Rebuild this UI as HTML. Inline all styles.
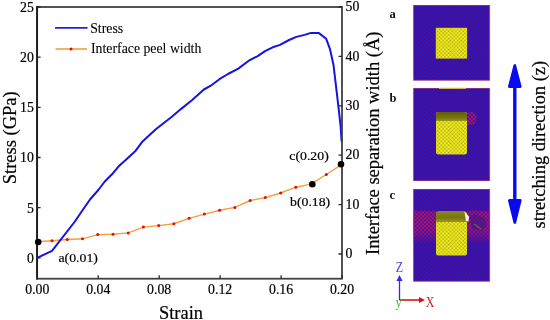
<!DOCTYPE html>
<html><head><meta charset="utf-8"><style>
html,body{margin:0;padding:0;background:#fff;width:550px;height:320px;overflow:hidden;font-family:"Liberation Serif",serif;}
svg{display:block;will-change:transform;}
</style></head><body>
<svg width="550" height="320" viewBox="0 0 550 320">
<defs>
<pattern id="md" width="3.90" height="3.90" patternUnits="userSpaceOnUse">
<rect width="3.90" height="3.90" fill="#0e0258"/><circle cx="0.00" cy="0.00" r="0.8" fill="#d0103c"/><circle cx="3.90" cy="0.00" r="0.8" fill="#d0103c"/><circle cx="0.00" cy="3.90" r="0.8" fill="#d0103c"/><circle cx="3.90" cy="3.90" r="0.8" fill="#d0103c"/><circle cx="1.95" cy="1.95" r="0.8" fill="#d0103c"/><circle cx="1.95" cy="0.00" r="1.1" fill="#1a1af8"/><circle cx="0.00" cy="1.95" r="1.1" fill="#1a1af8"/><circle cx="3.90" cy="1.95" r="1.1" fill="#1a1af8"/><circle cx="1.95" cy="3.90" r="1.1" fill="#1a1af8"/>
</pattern>
<pattern id="yl" width="2.6" height="2.6" patternUnits="userSpaceOnUse" patternTransform="rotate(45)">
<rect width="2.6" height="2.6" fill="#f2f020"/>
<circle cx="1.3" cy="1.3" r="0.85" fill="#a8a010"/>
</pattern>
<pattern id="mdr" width="3.90" height="3.90" patternUnits="userSpaceOnUse">
<rect width="3.90" height="3.90" fill="#2a0458"/><circle cx="0.00" cy="0.00" r="1.35" fill="#e81030"/><circle cx="3.90" cy="0.00" r="1.35" fill="#e81030"/><circle cx="0.00" cy="3.90" r="1.35" fill="#e81030"/><circle cx="3.90" cy="3.90" r="1.35" fill="#e81030"/><circle cx="1.95" cy="1.95" r="1.35" fill="#e81030"/><circle cx="1.95" cy="0.00" r="0.95" fill="#1a1af0"/><circle cx="0.00" cy="1.95" r="0.95" fill="#1a1af0"/><circle cx="3.90" cy="1.95" r="0.95" fill="#1a1af0"/><circle cx="1.95" cy="3.90" r="0.95" fill="#1a1af0"/>
</pattern>
<linearGradient id="cap" x1="0" y1="0" x2="0" y2="1">
<stop offset="0" stop-color="#5e5c08"/><stop offset="0.7" stop-color="#7a7810"/><stop offset="1" stop-color="#9a9818"/>
</linearGradient>
<linearGradient id="bandg" x1="0" y1="210" x2="0" y2="244" gradientUnits="userSpaceOnUse">
<stop offset="0" stop-color="#fff" stop-opacity="0.2"/><stop offset="0.08" stop-color="#fff" stop-opacity="0.85"/><stop offset="0.6" stop-color="#fff" stop-opacity="0.8"/><stop offset="1" stop-color="#fff" stop-opacity="0"/>
</linearGradient>
<mask id="bandmask" maskUnits="userSpaceOnUse" x="400" y="200" width="100" height="60"><rect x="400" y="200" width="100" height="60" fill="url(#bandg)"/></mask>
<linearGradient id="capc" x1="0" y1="0" x2="0" y2="1">
<stop offset="0" stop-color="#8a8818"/><stop offset="0.6" stop-color="#78760e"/><stop offset="1" stop-color="#9a9820"/>
</linearGradient>
</defs>
<rect width="550" height="320" fill="#fff"/>
<text transform="translate(33.90,262.70) scale(1,1.030)" font-family="Liberation Serif, serif" font-size="13.8" text-anchor="end" fill="#000" stroke="#000" stroke-width="0.2">0</text>
<text transform="translate(37.30,293.50) scale(1,1.030)" font-family="Liberation Serif, serif" font-size="13.8" text-anchor="middle" fill="#000" stroke="#000" stroke-width="0.2">0.00</text>
<text transform="translate(345.60,258.10) scale(1,1.030)" font-family="Liberation Serif, serif" font-size="13.8" fill="#000" stroke="#000" stroke-width="0.2">0</text>
<text transform="translate(33.90,212.54) scale(1,1.030)" font-family="Liberation Serif, serif" font-size="13.8" text-anchor="end" fill="#000" stroke="#000" stroke-width="0.2">5</text>
<text transform="translate(98.24,293.50) scale(1,1.030)" font-family="Liberation Serif, serif" font-size="13.8" text-anchor="middle" fill="#000" stroke="#000" stroke-width="0.2">0.04</text>
<text transform="translate(345.60,208.70) scale(1,1.030)" font-family="Liberation Serif, serif" font-size="13.8" fill="#000" stroke="#000" stroke-width="0.2">10</text>
<text transform="translate(33.90,162.38) scale(1,1.030)" font-family="Liberation Serif, serif" font-size="13.8" text-anchor="end" fill="#000" stroke="#000" stroke-width="0.2">10</text>
<text transform="translate(159.18,293.50) scale(1,1.030)" font-family="Liberation Serif, serif" font-size="13.8" text-anchor="middle" fill="#000" stroke="#000" stroke-width="0.2">0.08</text>
<text transform="translate(345.60,159.30) scale(1,1.030)" font-family="Liberation Serif, serif" font-size="13.8" fill="#000" stroke="#000" stroke-width="0.2">20</text>
<text transform="translate(33.90,112.22) scale(1,1.030)" font-family="Liberation Serif, serif" font-size="13.8" text-anchor="end" fill="#000" stroke="#000" stroke-width="0.2">15</text>
<text transform="translate(220.12,293.50) scale(1,1.030)" font-family="Liberation Serif, serif" font-size="13.8" text-anchor="middle" fill="#000" stroke="#000" stroke-width="0.2">0.12</text>
<text transform="translate(345.60,109.90) scale(1,1.030)" font-family="Liberation Serif, serif" font-size="13.8" fill="#000" stroke="#000" stroke-width="0.2">30</text>
<text transform="translate(33.90,62.06) scale(1,1.030)" font-family="Liberation Serif, serif" font-size="13.8" text-anchor="end" fill="#000" stroke="#000" stroke-width="0.2">20</text>
<text transform="translate(281.06,293.50) scale(1,1.030)" font-family="Liberation Serif, serif" font-size="13.8" text-anchor="middle" fill="#000" stroke="#000" stroke-width="0.2">0.16</text>
<text transform="translate(345.60,60.50) scale(1,1.030)" font-family="Liberation Serif, serif" font-size="13.8" fill="#000" stroke="#000" stroke-width="0.2">40</text>
<text transform="translate(33.90,11.90) scale(1,1.030)" font-family="Liberation Serif, serif" font-size="13.8" text-anchor="end" fill="#000" stroke="#000" stroke-width="0.2">25</text>
<text transform="translate(342.00,293.50) scale(1,1.030)" font-family="Liberation Serif, serif" font-size="13.8" text-anchor="middle" fill="#000" stroke="#000" stroke-width="0.2">0.20</text>
<text transform="translate(345.60,11.10) scale(1,1.030)" font-family="Liberation Serif, serif" font-size="13.8" fill="#000" stroke="#000" stroke-width="0.2">50</text>
<text x="181" y="318.9" font-family="Liberation Serif, serif" font-size="18.4" text-anchor="middle" fill="#000" stroke="#000" stroke-width="0.2">Strain</text>
<text transform="translate(16.2,137.8) rotate(-90)" font-family="Liberation Serif, serif" font-size="18.5" text-anchor="middle" fill="#000" stroke="#000" stroke-width="0.2">Stress (GPa)</text>
<text transform="translate(379.2,143.2) rotate(-90)" font-family="Liberation Serif, serif" font-size="18.5" text-anchor="middle" fill="#000" stroke="#000" stroke-width="0.2">Interface separation width (&#197;)</text>
<polyline points="37.3,241.8 52.0,240.8 67.3,239.5 82.5,238.8 97.7,234.6 113.0,234.2 128.2,232.9 143.4,227.1 158.7,225.6 173.9,223.7 189.1,218.3 204.4,214.1 219.6,210.3 234.9,207.4 250.1,200.5 265.3,197.6 280.6,193.0 295.8,187.2 311.0,184.2 326.3,174.5 342.0,164.4" fill="none" stroke="#f2a03a" stroke-width="1.4"/>
<circle cx="52.0" cy="240.8" r="1.5" fill="#ea0808"/>
<circle cx="67.3" cy="239.5" r="1.5" fill="#ea0808"/>
<circle cx="82.5" cy="238.8" r="1.5" fill="#ea0808"/>
<circle cx="97.7" cy="234.6" r="1.5" fill="#ea0808"/>
<circle cx="113.0" cy="234.2" r="1.5" fill="#ea0808"/>
<circle cx="128.2" cy="232.9" r="1.5" fill="#ea0808"/>
<circle cx="143.4" cy="227.1" r="1.5" fill="#ea0808"/>
<circle cx="158.7" cy="225.6" r="1.5" fill="#ea0808"/>
<circle cx="173.9" cy="223.7" r="1.5" fill="#ea0808"/>
<circle cx="189.1" cy="218.3" r="1.5" fill="#ea0808"/>
<circle cx="204.4" cy="214.1" r="1.5" fill="#ea0808"/>
<circle cx="219.6" cy="210.3" r="1.5" fill="#ea0808"/>
<circle cx="234.9" cy="207.4" r="1.5" fill="#ea0808"/>
<circle cx="250.1" cy="200.5" r="1.5" fill="#ea0808"/>
<circle cx="265.3" cy="197.6" r="1.5" fill="#ea0808"/>
<circle cx="280.6" cy="193.0" r="1.5" fill="#ea0808"/>
<circle cx="295.8" cy="187.2" r="1.5" fill="#ea0808"/>
<circle cx="326.3" cy="174.5" r="1.5" fill="#ea0808"/>
<polyline points="37.3,257.8 52.0,250.8 74.5,222.0 82.7,210.0 90.0,199.5 98.3,190.0 104.8,181.5 112.0,174.3 119.3,165.7 126.5,159.2 135.7,150.7 142.0,142.1 155.8,129.2 171.2,117.2 181.5,108.6 191.9,100.3 203.9,89.5 210.8,85.7 219.4,79.2 228.0,74.0 238.3,68.6 249.4,60.3 257.3,56.3 265.0,51.2 272.7,47.3 280.0,44.9 289.1,40.0 296.4,36.9 304.5,34.9 311.0,32.9 318.6,32.9 326.2,38.8 330.0,49.1 333.5,65.0 338.6,108.2 340.6,126.0 341.6,141.5" fill="none" stroke="#1414e0" stroke-width="2" stroke-linejoin="round"/>
<rect x="37.1" y="7" width="304.9" height="271.7" fill="none" stroke="#404040" stroke-width="1.8"/>
<path d="M37.1,6.1V279.6" stroke="#1e1e1e" stroke-width="1.9"/>
<path d="M37.1,257.8h3.5M37.3,278.7v-3.5M342,254.0h-3.5M37.1,207.6h3.5M98.2,278.7v-3.5M342,204.6h-3.5M37.1,157.5h3.5M159.2,278.7v-3.5M342,155.2h-3.5M37.1,107.3h3.5M220.1,278.7v-3.5M342,105.8h-3.5M37.1,57.2h3.5M281.1,278.7v-3.5M342,56.4h-3.5M37.1,7.0h3.5M342.0,278.7v-3.5M342,7.0h-3.5" stroke="#2a2a2a" stroke-width="1.3" fill="none"/>
<circle cx="38.2" cy="242.0" r="3.3" fill="#000"/>
<circle cx="312.3" cy="184.2" r="3.3" fill="#000"/>
<circle cx="341.0" cy="164.2" r="3.3" fill="#000"/>
<text transform="translate(58.50,261.90) scale(1,0.960)" font-family="Liberation Serif, serif" font-size="13.8" fill="#000" stroke="#000" stroke-width="0.2">a(0.01)</text>
<text transform="translate(290.00,206.10) scale(1,0.960)" font-family="Liberation Serif, serif" font-size="13.8" fill="#000" stroke="#000" stroke-width="0.2">b(0.18)</text>
<text transform="translate(289.30,160.40) scale(1,0.960)" font-family="Liberation Serif, serif" font-size="13.8" fill="#000" stroke="#000" stroke-width="0.2">c(0.20)</text>
<path d="M55,27.9H87.5" stroke="#2020e2" stroke-width="1.8"/>
<text x="90.2" y="32.7" font-family="Liberation Serif, serif" font-size="13.8" fill="#000" stroke="#000" stroke-width="0.08">Stress</text>
<path d="M55.5,49H87" stroke="#f2a03a" stroke-width="1.6"/>
<circle cx="71" cy="49" r="1.5" fill="#ea0808"/>
<text x="91" y="53.3" font-family="Liberation Serif, serif" font-size="13.8" fill="#000" stroke="#000" stroke-width="0.08">Interface peel width</text>
<text x="389.5" y="17.7" font-family="Liberation Serif, serif" font-size="12.5" font-weight="bold" fill="#111">a</text>
<text x="389.5" y="102.2" font-family="Liberation Serif, serif" font-size="12.5" font-weight="bold" fill="#111">b</text>
<text x="389.5" y="199.0" font-family="Liberation Serif, serif" font-size="12.5" font-weight="bold" fill="#111">c</text>
<rect x="413.3" y="5.0" width="76.5" height="75.5" fill="url(#md)"/>
<rect x="413.3" y="5.3" width="76.5" height="74.9" fill="none" stroke="#d85070" stroke-width="0.7" stroke-opacity="0.7"/>
<rect x="413.3" y="88.0" width="76.5" height="93.0" fill="url(#md)"/>
<rect x="413.3" y="88.3" width="76.5" height="92.4" fill="none" stroke="#d85070" stroke-width="0.7" stroke-opacity="0.7"/>
<rect x="413.3" y="189.0" width="76.5" height="92.5" fill="url(#md)"/>
<rect x="413.3" y="189.3" width="76.5" height="91.9" fill="none" stroke="#d85070" stroke-width="0.7" stroke-opacity="0.7"/>
<rect x="439" y="87.7" width="27" height="1.1" fill="#e8d858"/>
<path d="M467,113 L472,111.5 L476,114 L477,119 L474,124 L469,125.5 L467,124 Z" fill="url(#mdr)" opacity="0.75"/>
<rect x="413.6" y="210" width="22.4" height="34" fill="url(#mdr)" mask="url(#bandmask)"/>
<rect x="467" y="210" width="22.5" height="34" fill="url(#mdr)" mask="url(#bandmask)"/>
<path d="M470,216 l6,-2 l8,4 l3,8 l-6,5 l-9,-3 Z" fill="#221a88" opacity="0.45"/>
<path d="M474,224 l7,5" stroke="#6a7a30" stroke-width="1.5" opacity="0.8"/>
<rect x="435.8" y="27.8" width="31.3" height="30.8" fill="url(#yl)"/>
<rect x="436" y="112" width="31" height="42.5" rx="2.5" fill="url(#yl)"/>
<path d="M436,121 V115 Q436,112 439,112 H464 Q467,112 467,115 V121 Z" fill="url(#cap)"/>
<rect x="436" y="211.5" width="31" height="44" rx="2.5" fill="url(#yl)"/>
<path d="M436,222 V214 Q436,211.3 439,211.3 H463 L467,214 V222 Z" fill="url(#capc)"/>
<path d="M464.5,212 L469,216.5 L468.5,221.5 L466,221 Z" fill="#f4f4f4"/>
<path d="M514.8,65.4 L509.3,86.6 L520.3,86.6 Z M509.3,200.4 L520.3,200.4 L514.8,222.6 Z" fill="#0a0af0" stroke="#0a0af0" stroke-width="2.6" stroke-linejoin="round"/>
<path d="M513.1,86 h3.4 v115 h-3.4 Z" fill="#0a0af0"/>
<text transform="translate(544.8,144.7) rotate(-90)" font-family="Liberation Serif, serif" font-size="18.4" text-anchor="middle" fill="#000" stroke="#000" stroke-width="0.2">stretching direction (z)</text>
<path d="M399.5,300V280" stroke="#2a2af0" stroke-width="1.3"/>
<path d="M399.5,275 L396.5,281 L402.5,281 Z" fill="#2a2af0"/>
<path d="M399.5,300H419.5" stroke="#d01818" stroke-width="1.6"/>
<path d="M425,300 L419,297 L419,303 Z" fill="#d01818"/>
<text transform="translate(395.80,271.50) scale(1,1.150)" font-family="Liberation Serif, serif" font-size="12" fill="#4848d8">Z</text>
<text transform="translate(425.80,306.50) scale(1,1.150)" font-family="Liberation Serif, serif" font-size="12" fill="#c82020">X</text>
<text transform="translate(395.50,306.50) scale(1,1.150)" font-family="Liberation Serif, serif" font-size="12.5" fill="#3cc03c">y</text>
</svg>
</body></html>
